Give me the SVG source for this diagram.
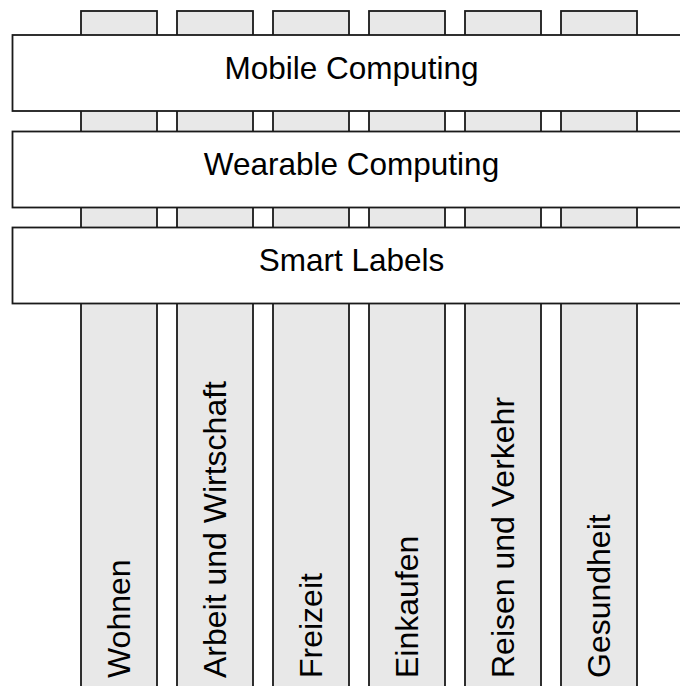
<svg xmlns="http://www.w3.org/2000/svg" width="680" height="686" viewBox="0 0 680 686">
<style>
.col{fill:#e8e8e8;stroke:#1a1a1a;stroke-width:1.8}
.band{fill:#ffffff;stroke:#1a1a1a;stroke-width:1.8}
.t{font-family:"Liberation Sans",Arial,sans-serif;font-size:32px;fill:#000}
.bt{text-anchor:middle;font-size:31.5px}
</style>
<rect width="680" height="686" fill="#ffffff"/>
<g id="col-wohnen"><rect class="col" x="81" y="11" width="76" height="690"/><text class="t" transform="translate(130,678) rotate(-90)">Wohnen</text></g>
<g id="col-arbeit"><rect class="col" x="177" y="11" width="76" height="690"/><text class="t" transform="translate(226,678) rotate(-90)">Arbeit und Wirtschaft</text></g>
<g id="col-freizeit"><rect class="col" x="273" y="11" width="76" height="690"/><text class="t" transform="translate(322,678) rotate(-90)">Freizeit</text></g>
<g id="col-einkaufen"><rect class="col" x="369" y="11" width="76" height="690"/><text class="t" transform="translate(418,678) rotate(-90)">Einkaufen</text></g>
<g id="col-reisen"><rect class="col" x="465" y="11" width="76" height="690"/><text class="t" transform="translate(514,678) rotate(-90)">Reisen und Verkehr</text></g>
<g id="col-gesundheit"><rect class="col" x="561" y="11" width="76" height="690"/><text class="t" transform="translate(610,678) rotate(-90)">Gesundheit</text></g>
<g id="band-mobile"><rect class="band" x="12.5" y="35" width="678" height="76"/><text class="t bt" x="351.5" y="78.5">Mobile Computing</text></g>
<g id="band-wearable"><rect class="band" x="12.5" y="131.5" width="678" height="76"/><text class="t bt" x="351.5" y="175">Wearable Computing</text></g>
<g id="band-smart"><rect class="band" x="12.5" y="227.5" width="678" height="76"/><text class="t bt" x="351.5" y="270.5">Smart Labels</text></g>
</svg>
